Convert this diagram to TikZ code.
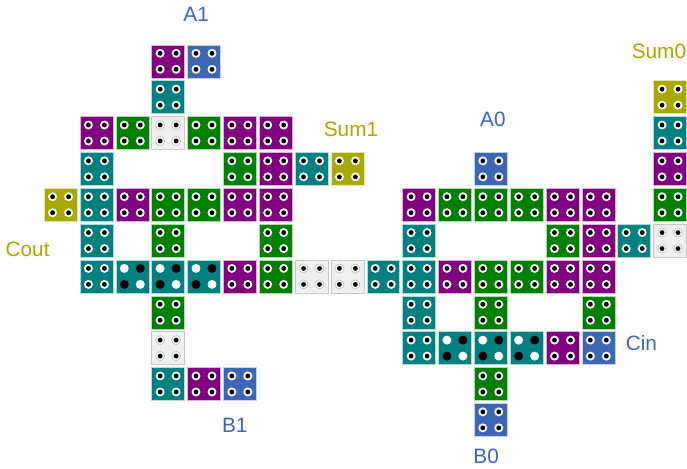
\documentclass[tikz,border=0pt]{standalone}
\usepackage{fontspec}
\setmainfont{Liberation Sans}
\definecolor{cellpurple}{HTML}{800080}
\definecolor{cellblue}{HTML}{3D66B3}
\definecolor{cellteal}{HTML}{008080}
\definecolor{cellgreen}{HTML}{008000}
\definecolor{cellolive}{HTML}{A8A800}
\definecolor{cellwhite}{HTML}{F0F0F0}
\tikzset{
  cell/.style={draw=white!70!#1, line width=0.4pt, fill=#1, minimum size=0.92cm, inner sep=0pt},
  emptycell/.style={draw=black!22, line width=0.4pt, fill=cellwhite, minimum size=0.92cm, inner sep=0pt},
  inlabel/.style={font=\fontsize{16.5}{18}\selectfont, text=cellblue},
  outlabel/.style={font=\fontsize{16.5}{18}\selectfont, text=cellolive}
}
\begin{document}
\begin{tikzpicture}[x=1cm,y=-1cm]
\useasboundingbox (-1.69,-1.71) rectangle (17.473,11.372);
% ordinary cells
\foreach \col/\row/\kind in {3/0/cellpurple,4/0/cellblue,3/1/cellteal,17/1/cellolive,
  1/2/cellpurple,2/2/cellgreen,4/2/cellgreen,5/2/cellpurple,6/2/cellpurple,17/2/cellteal,
  1/3/cellteal,5/3/cellgreen,6/3/cellpurple,7/3/cellteal,8/3/cellolive,12/3/cellblue,17/3/cellpurple,
  0/4/cellolive,1/4/cellteal,2/4/cellpurple,3/4/cellgreen,4/4/cellgreen,5/4/cellpurple,6/4/cellpurple,
  10/4/cellpurple,11/4/cellgreen,12/4/cellgreen,13/4/cellgreen,14/4/cellpurple,15/4/cellpurple,17/4/cellgreen,
  1/5/cellteal,3/5/cellgreen,6/5/cellgreen,10/5/cellteal,14/5/cellgreen,15/5/cellpurple,16/5/cellteal,
  1/6/cellteal,5/6/cellpurple,6/6/cellgreen,9/6/cellteal,10/6/cellteal,11/6/cellpurple,12/6/cellgreen,
  13/6/cellgreen,14/6/cellpurple,15/6/cellpurple,
  3/7/cellgreen,10/7/cellteal,12/7/cellgreen,15/7/cellgreen,
  10/8/cellteal,14/8/cellpurple,15/8/cellblue,
  3/9/cellteal,4/9/cellpurple,5/9/cellblue,12/9/cellgreen,12/10/cellblue}{
  \node[cell=\kind] (c\col-\row) at (\col,\row) {};
  \foreach \dx in {-0.223,0.223}{
    \foreach \dy in {-0.223,0.223}{
      \fill[white] ([shift={(\dx,\dy)}]c\col-\row.center) circle (0.125);
      \fill[black] ([shift={(\dx,\dy)}]c\col-\row.center) circle (0.068);
    }
  }
}
% empty cells
\foreach \col/\row in {3/2,17/5,7/6,8/6,3/8}{
  \node[emptycell] (c\col-\row) at (\col,\row) {};
  \foreach \dx in {-0.223,0.223}{
    \foreach \dy in {-0.223,0.223}{
      \draw[black!35, line width=0.3pt, fill=white] ([shift={(\dx,\dy)}]c\col-\row.center) circle (0.125);
      \fill[black] ([shift={(\dx,\dy)}]c\col-\row.center) circle (0.068);
    }
  }
}
% filled cells
\foreach \col/\row in {2/6,3/6,4/6,11/8,12/8,13/8}{
  \node[cell=cellteal] (c\col-\row) at (\col,\row) {};
  \fill[white] ([shift={(-0.223,-0.223)}]c\col-\row.center) circle (0.125);
  \fill[black] ([shift={(0.223,-0.223)}]c\col-\row.center) circle (0.125);
  \fill[black] ([shift={(-0.223,0.223)}]c\col-\row.center) circle (0.125);
  \fill[white] ([shift={(0.223,0.223)}]c\col-\row.center) circle (0.125);
}
\node[inlabel] (lblA1) at (3.78,-1.32) {A1};
\node[inlabel] (lblA0) at (12.06,1.61) {A0};
\node[inlabel] (lblB1) at (4.86,10.15) {B1};
\node[inlabel] (lblB0) at (11.87,11.01) {B0};
\node[inlabel] (lblCin) at (16.2,7.86) {Cin};
\node[outlabel] (lblSum0) at (16.69,-0.29) {Sum0};
\node[outlabel] (lblSum1) at (8.1,1.89) {Sum1};
\node[outlabel] (lblCout) at (-0.92,5.25) {Cout};
\end{tikzpicture}
\end{document}
